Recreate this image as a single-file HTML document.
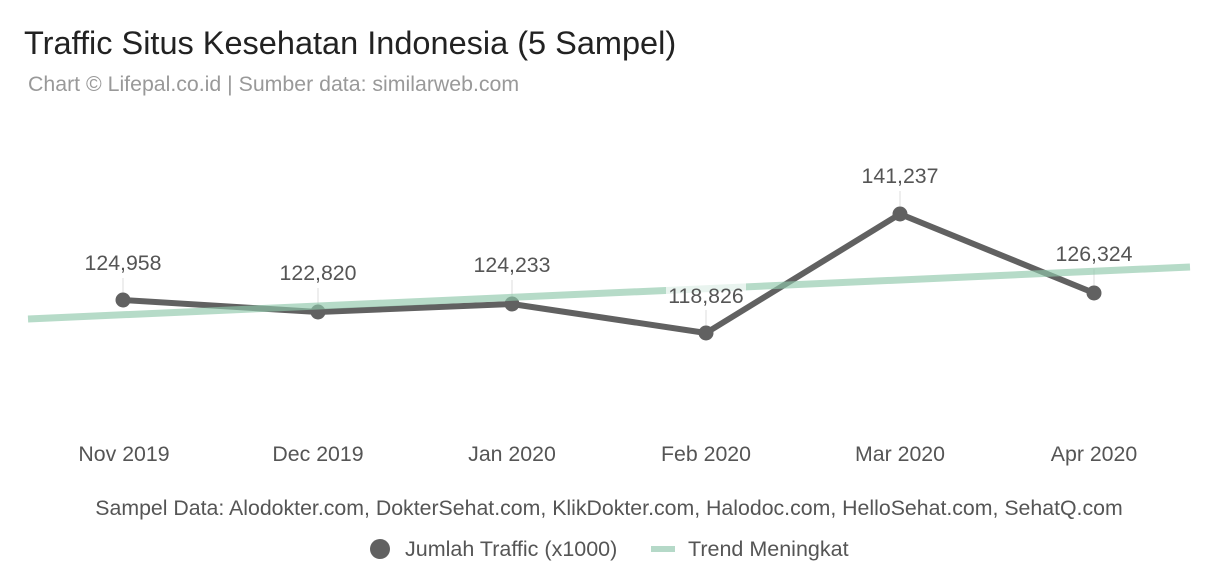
<!DOCTYPE html>
<html><head><meta charset="utf-8"><style>
html,body{margin:0;padding:0;background:#fff;}
svg{display:block;font-family:"Liberation Sans",sans-serif;}
</style></head><body>
<svg width="1216" height="588" viewBox="0 0 1216 588" xmlns="http://www.w3.org/2000/svg">
<text x="24" y="54" font-size="32.5" fill="#222">Traffic Situs Kesehatan Indonesia (5 Sampel)</text>
<text x="28" y="91" font-size="21.3" fill="#999">Chart © Lifepal.co.id | Sumber data: similarweb.com</text>
<g stroke="#ddd" stroke-width="1">
<line x1="123" y1="278" x2="123" y2="300"/>
<line x1="318" y1="288" x2="318" y2="312"/>
<line x1="512" y1="280" x2="512" y2="304"/>
<line x1="706" y1="310" x2="706" y2="333"/>
<line x1="900" y1="191" x2="900" y2="214"/>
<line x1="1094" y1="269" x2="1094" y2="293"/>
</g>
<polyline points="123,300 318,312 512,304 706,333 900,214 1094,293" fill="none" stroke="#616161" stroke-width="6" stroke-linejoin="round"/>
<g fill="#616161">
<circle cx="123" cy="300" r="7.5"/><circle cx="318" cy="312" r="7.5"/><circle cx="512" cy="304" r="7.5"/>
<circle cx="706" cy="333" r="7.5"/><circle cx="900" cy="214" r="7.5"/><circle cx="1094" cy="293" r="7.5"/>
</g>
<line x1="28" y1="319" x2="1190" y2="267" stroke="#8fc7aa" stroke-opacity="0.65" stroke-width="7"/>
<rect x="666" y="283" width="80" height="22" fill="#fff" fill-opacity="0.7"/>
<g font-size="21.3" fill="#555" text-anchor="middle">
<text x="123" y="270">124,958</text>
<text x="318" y="280">122,820</text>
<text x="512" y="272">124,233</text>
<text x="706" y="303">118,826</text>
<text x="900" y="183">141,237</text>
<text x="1094" y="261">126,324</text>
</g>
<g font-size="21.3" fill="#555" text-anchor="middle">
<text x="124" y="461">Nov 2019</text>
<text x="318" y="461">Dec 2019</text>
<text x="512" y="461">Jan 2020</text>
<text x="706" y="461">Feb 2020</text>
<text x="900" y="461">Mar 2020</text>
<text x="1094" y="461">Apr 2020</text>
</g>
<text x="609" y="515" font-size="21.3" fill="#555" text-anchor="middle">Sampel Data: Alodokter.com, DokterSehat.com, KlikDokter.com, Halodoc.com, HelloSehat.com, SehatQ.com</text>
<circle cx="380" cy="549" r="10" fill="#616161"/>
<text x="405" y="556" font-size="21.5" fill="#555">Jumlah Traffic (x1000)</text>
<line x1="651" y1="549" x2="675" y2="549" stroke="#b5d9c8" stroke-width="6"/>
<text x="688" y="556" font-size="21.5" fill="#555">Trend Meningkat</text>
</svg>
</body></html>
